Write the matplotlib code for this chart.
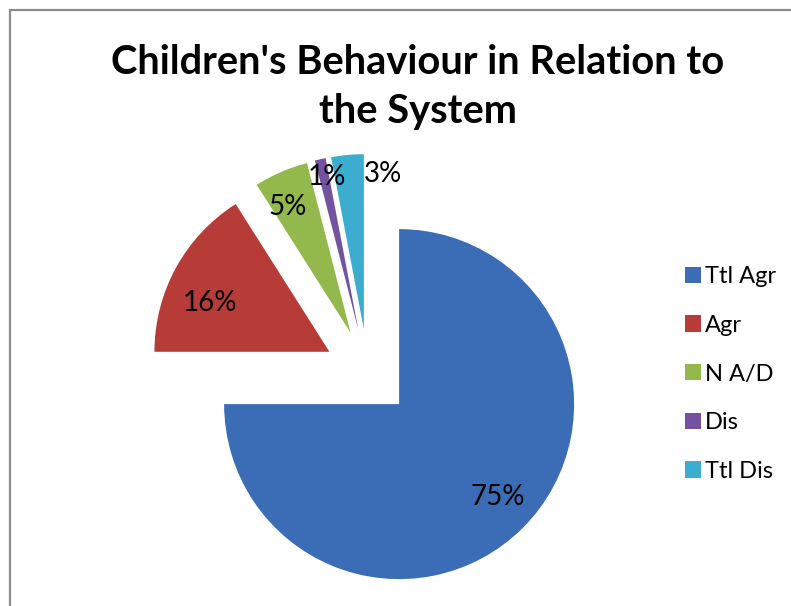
import matplotlib
matplotlib.use("Agg")
import matplotlib.pyplot as plt
from matplotlib.patches import Rectangle

# survey answers, share of children in each group
categories = ["Ttl Agr", "Agr", "N A/D", "Dis", "Ttl Dis"]
shares = [75, 16, 5, 1, 3]
colors = ["#3a6db5", "#b73c38", "#93b84b", "#7353a0", "#3badcf"]

plt.rcParams["font.family"] = ["Lato", "DejaVu Sans"]

W, H = 791, 606
fig = plt.figure(figsize=(W / 100, H / 100), dpi=100)
ax = fig.add_axes([0, 0, 1, 1])

# grey frame of the chart area, cut off on the right and bottom
fig.patches.append(Rectangle((10 / W, -0.1), 1.2, (H - 10) / H + 0.1,
                             transform=fig.transFigure, fill=False,
                             edgecolor="#8c8c8c", linewidth=1.6))

# axes run in pixel units, so explode is an offset in pixels
radius = 175
center = (368, H - 373)
wedges, texts, autotexts = ax.pie(
    shares, colors=colors, startangle=90, counterclock=False,
    explode=[44] * len(shares), radius=radius, center=center,
    autopct="%d%%", pctdistance=0.75,
    textprops=dict(fontsize=20, color="black"),
    wedgeprops=dict(linewidth=0),
)

# shift labels a little, the thin slices get theirs moved outside
nudges = {0: (6, 0), 1: (-4, -14), 2: (-11, 5), 3: (-3, 25), 4: (31, 25)}
for i, (dx, dy) in nudges.items():
    x, y = autotexts[i].get_position()
    autotexts[i].set_position((x + dx, y + dy))

ax.set_xlim(0, W)
ax.set_ylim(0, H)
ax.set_aspect("equal")
ax.axis("off")

fig.text(0.528, 1 - 87 / H, "Children's Behaviour in Relation to\nthe System",
         ha="center", va="center", fontsize=28.7, fontweight="bold",
         linespacing=1.4)

leg = ax.legend(wedges, categories, loc="center left",
                bbox_to_anchor=(685 / W, 1 - 374 / H), frameon=False,
                fontsize=17, handlelength=0.68, handleheight=0.68,
                handletextpad=0.15, labelspacing=1.17, borderpad=0,
                borderaxespad=0)

fig.savefig("out.png", dpi=100)
